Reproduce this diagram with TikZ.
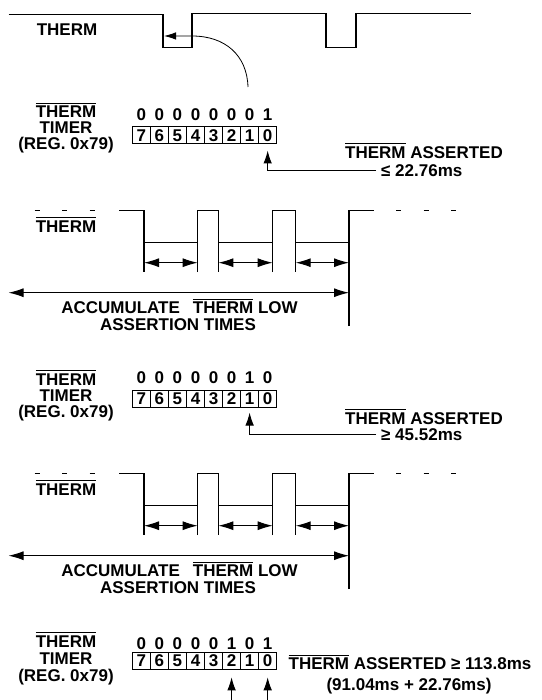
\documentclass[tikz,border=0pt]{standalone}
\usepackage{fontspec}
\setmainfont{Liberation Sans}
\usetikzlibrary{arrows.meta}

% bar over a word (active low signal)
\newcommand\ovbar[1]{\leavevmode\setbox0\hbox{#1}\rlap{\rule[\dimexpr\ht0+2.4pt\relax]{\wd0}{1.1pt}}\box0\relax}

\begin{document}
\begin{tikzpicture}[x=1pt,y=-1pt,
	sig/.style={line width=1.3pt},
	txt/.style={font=\fontsize{17}{17}\selectfont\bfseries, inner sep=0pt},
	cell/.style={draw, line width=1pt, minimum width=18.05pt, minimum height=17.5pt, inner sep=0pt, font=\fontsize{17}{17}\selectfont\bfseries},
	dim/.style={line width=1pt, {Latex[length=15pt,width=9pt]}-{Latex[length=15pt,width=9pt]}},
	pnt/.style={line width=1pt, -{Latex[length=13pt,width=8.5pt]}}]

	\useasboundingbox (0,0) rectangle (541,700);

	% first THERM pulses
	\node[txt, anchor=base] (th0) at (67,35.5) {THERM};
	\draw[sig] (8.5,14.7) -- (163,14.7) -- (163,47.3) -- (192,47.3) -- (192,13.3) -- (326,13.3)
		-- (326,47.3) -- (356,47.3) -- (356,13.3) -- (471,13.3);
	\coordinate (crv) at (248,87);
	\coordinate (tip0) at (164,36);
	\draw[line width=0.8pt, -{Latex[length=12pt,width=7.5pt]}] (crv) .. controls (247,55) and (225,36) .. (192,36) -- (tip0);

	% register, first reading
	\node[txt, anchor=base] (la1) at (66,118) {\ovbar{THERM}};
	\node[txt, anchor=base] (lb1) at (66,133.5) {TIMER};
	\node[txt, anchor=base] (lc1) at (66,149.3) {(REG. 0x79)};
	\foreach \i/\b in {7/0,6/0,5/0,4/0,3/0,2/0,1/0,0/1} {
		\node[cell] (ra\i) at ({276.7-18.05*(\i+0.5)},135.25) {\i};
		\node[txt, anchor=base] (ba\i) at ({276.7-18.05*(\i+0.5)},120.3) {\b};
	}
	\node[txt, anchor=base] (as1) at (424,158.3) {\ovbar{THERM} ASSERTED};
	\node[txt, anchor=base west] (lim1) at (381,176.5) {≤ 22.76ms};
	\draw[pnt] ([xshift=-5pt]lim1.west) -| ([yshift=-6pt]ra0.south);

	% two repeated THERM trains
	\foreach \dy/\k in {0/2,263/3} {
		\begin{scope}[shift={(0,\dy)}]
			\node[txt, anchor=base] (th\k) at (66,232.2) {\ovbar{THERM}};
			\foreach \x in {34.5,62,89.5,396,423.5,451}
				\draw[sig] (\x,210.7) -- ++(5,0);
			\draw[sig] (119,210.7) -- (144,210.7) -- (144,272);
			\draw[sig] (197.7,272) -- (197.7,210.7) -- (218.3,210.7) -- (218.3,272);
			\draw[sig] (272.7,272) -- (272.7,210.7) -- (295.7,210.7) -- (295.7,272);
			\draw[sig] (349,326) -- (349,210.7) -- (374.3,210.7);
			\draw[sig] (144,242.7) -- (197.7,242.7) (218.3,242.7) -- (272.7,242.7) (295.7,242.7) -- (349,242.7);

			\draw[dim] (144,262.7) -- (197.7,262.7);
			\draw[dim] (218.3,262.7) -- (272.7,262.7);
			\draw[dim] (295.7,262.7) -- (349,262.7);
			\draw[dim] (8.5,292.7) -- (349,292.7);

			\node[txt, anchor=base] (ac\k) at (179.5,313.8) {ACCUMULATE\hspace{13pt}\ovbar{THERM} LOW};
			\node[txt, anchor=base] (at\k) at (178,330.5) {ASSERTION TIMES};
		\end{scope}
	}

	% register, second reading
	\node[txt, anchor=base] (la2) at (66,385) {\ovbar{THERM}};
	\node[txt, anchor=base] (lb2) at (66,401) {TIMER};
	\node[txt, anchor=base] (lc2) at (66,417) {(REG. 0x79)};
	\foreach \i/\b in {7/0,6/0,5/0,4/0,3/0,2/0,1/1,0/0} {
		\node[cell] (rb\i) at ({276.7-18.05*(\i+0.5)},398.75) {\i};
		\node[txt, anchor=base] (bb\i) at ({276.7-18.05*(\i+0.5)},383.3) {\b};
	}
	\node[txt, anchor=base] (as2) at (424,424) {\ovbar{THERM} ASSERTED};
	\node[txt, anchor=base west] (lim2) at (381,440.7) {≥ 45.52ms};
	\draw[pnt] ([xshift=-5pt]lim2.west) -| ([yshift=-4.5pt]rb1.south);

	% register, third reading
	\node[txt, anchor=base] (la3) at (66,647.2) {\ovbar{THERM}};
	\node[txt, anchor=base] (lb3) at (66,664.8) {TIMER};
	\node[txt, anchor=base] (lc3) at (66,681.5) {(REG. 0x79)};
	\foreach \i/\b in {7/0,6/0,5/0,4/0,3/0,2/1,1/0,0/1} {
		\node[cell] (rc\i) at ({276.7-18.05*(\i+0.5)},661) {\i};
		\node[txt, anchor=base] (bc\i) at ({276.7-18.05*(\i+0.5)},649) {\b};
	}
	\node[txt, anchor=base] (as3) at (410,669.8) {\ovbar{THERM} ASSERTED ≥ 113.8ms};
	\node[txt, anchor=base] (sum3) at (409,690.8) {(91.04ms + 22.76ms)};
	\coordinate (up2) at (rc2.south |- 0,700);
	\coordinate (up0) at (rc0.south |- 0,700);
	\draw[pnt] (up2) -- ([yshift=-7pt]rc2.south);
	\draw[pnt] (up0) -- ([yshift=-7pt]rc0.south);
\end{tikzpicture}
\end{document}
